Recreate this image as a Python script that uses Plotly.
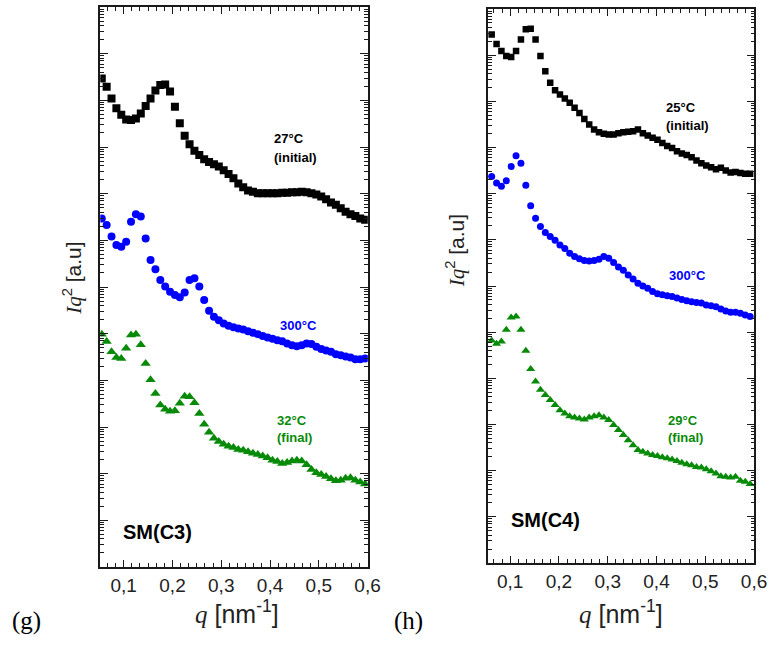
import plotly.graph_objects as go

# ---------------- data ----------------
# Panel (g): SM(C3); y values are log10 of Iq^2 (arbitrary units)
q_g = [0.055, 0.065, 0.075, 0.085, 0.095, 0.105, 0.115, 0.125, 0.135, 0.145,
       0.155, 0.165, 0.175, 0.185, 0.195, 0.205, 0.215, 0.225, 0.235, 0.245,
       0.255, 0.265, 0.275, 0.285, 0.295, 0.305, 0.315, 0.325, 0.335, 0.345,
       0.355, 0.365, 0.375, 0.385, 0.395, 0.405, 0.415, 0.425, 0.435, 0.445,
       0.455, 0.465, 0.475, 0.485, 0.495, 0.505, 0.515, 0.525, 0.535, 0.545,
       0.555, 0.565, 0.575, 0.585, 0.595]
g_27C_initial = [10.47, 10.29, 10.04, 9.83, 9.69, 9.59, 9.58, 9.61, 9.72, 9.88,
                 10.04, 10.21, 10.33, 10.34, 10.19, 9.86, 9.51, 9.24, 9.06, 8.92,
                 8.83, 8.74, 8.68, 8.63, 8.58, 8.50, 8.42, 8.33, 8.22, 8.14,
                 8.07, 8.04, 8.01, 8.01, 8.01, 8.01, 8.01, 8.02, 8.02, 8.03,
                 8.03, 8.04, 8.03, 8.01, 7.98, 7.94, 7.88, 7.81, 7.76, 7.69,
                 7.61, 7.56, 7.52, 7.47, 7.44]
g_300C = [7.47, 7.33, 7.08, 6.90, 6.86, 6.97, 7.40, 7.56, 7.51, 7.04,
          6.58, 6.38, 6.15, 6.01, 5.90, 5.83, 5.78, 5.88, 6.15, 6.19,
          6.01, 5.72, 5.49, 5.36, 5.29, 5.22, 5.17, 5.14, 5.11, 5.09,
          5.05, 5.02, 4.99, 4.95, 4.92, 4.89, 4.86, 4.84, 4.79, 4.75,
          4.73, 4.75, 4.79, 4.78, 4.72, 4.67, 4.64, 4.61, 4.56, 4.54,
          4.51, 4.49, 4.45, 4.45, 4.47]
g_32C_final = [4.99, 4.83, 4.61, 4.49, 4.47, 4.69, 4.97, 4.99, 4.76, 4.36,
               4.01, 3.72, 3.47, 3.38, 3.34, 3.35, 3.51, 3.66, 3.65, 3.52,
               3.29, 3.06, 2.89, 2.76, 2.69, 2.63, 2.59, 2.56, 2.52, 2.50,
               2.47, 2.44, 2.41, 2.38, 2.34, 2.29, 2.26, 2.22, 2.24, 2.27,
               2.29, 2.27, 2.19, 2.09, 2.02, 1.98, 1.94, 1.89, 1.85, 1.86,
               1.90, 1.91, 1.86, 1.82, 1.78]

# Panel (h): SM(C4)
q_h = [0.062, 0.072, 0.082, 0.092, 0.102, 0.112, 0.122, 0.132, 0.142, 0.152,
       0.162, 0.172, 0.182, 0.192, 0.202, 0.212, 0.222, 0.232, 0.242, 0.252,
       0.262, 0.272, 0.282, 0.292, 0.302, 0.312, 0.322, 0.332, 0.342, 0.352,
       0.362, 0.372, 0.382, 0.392, 0.402, 0.412, 0.422, 0.432, 0.442, 0.452,
       0.462, 0.472, 0.482, 0.492, 0.502, 0.512, 0.522, 0.532, 0.542, 0.552,
       0.562, 0.572, 0.582, 0.592]
h_25C_initial = [11.45, 11.24, 11.09, 10.98, 10.96, 11.09, 11.34, 11.56, 11.57, 11.34,
                 10.98, 10.65, 10.40, 10.24, 10.15, 10.06, 9.97, 9.86, 9.75, 9.62,
                 9.50, 9.39, 9.33, 9.30, 9.28, 9.28, 9.31, 9.33, 9.34, 9.35,
                 9.39, 9.31, 9.26, 9.21, 9.17, 9.10, 9.03, 8.99, 8.92, 8.87,
                 8.84, 8.79, 8.72, 8.66, 8.61, 8.57, 8.53, 8.56, 8.50, 8.46,
                 8.47, 8.45, 8.43, 8.43]
h_300C = [8.37, 8.23, 8.16, 8.28, 8.59, 8.82, 8.66, 8.18, 7.74, 7.47,
          7.29, 7.16, 7.07, 6.99, 6.89, 6.81, 6.71, 6.64, 6.59, 6.55,
          6.54, 6.55, 6.58, 6.64, 6.60, 6.51, 6.41, 6.34, 6.24, 6.15,
          6.06, 6.00, 5.95, 5.88, 5.83, 5.81, 5.79, 5.77, 5.74, 5.71,
          5.68, 5.66, 5.64, 5.63, 5.59, 5.57, 5.55, 5.50, 5.46, 5.43,
          5.43, 5.41, 5.37, 5.34]
h_29C_final = [4.82, 4.75, 4.80, 5.05, 5.32, 5.34, 5.05, 4.60, 4.20, 3.93,
               3.75, 3.64, 3.53, 3.42, 3.31, 3.24, 3.18, 3.15, 3.13, 3.11,
               3.15, 3.18, 3.20, 3.15, 3.10, 2.99, 2.88, 2.77, 2.66, 2.55,
               2.45, 2.41, 2.37, 2.34, 2.32, 2.29, 2.27, 2.24, 2.21, 2.17,
               2.14, 2.12, 2.08, 2.07, 2.03, 1.99, 1.94, 1.88, 1.87, 1.85,
               1.87, 1.78, 1.76, 1.71]

BLACK = "#000000"
BLUE = "#0000ff"
GREEN = "#078a07"

W, H = 784, 646


def px(x):
    return x / W


def py(y):
    return 1 - y / H


def delog(vals):
    return [10 ** v for v in vals]


fig = go.Figure()

series = [
    (q_g, g_27C_initial, "square", 8, BLACK, "x", "y"),
    (q_g, g_300C, "circle", 8, BLUE, "x", "y"),
    (q_g, g_32C_final, "triangle-up", 9, GREEN, "x", "y"),
    (q_h, h_25C_initial, "square", 6.5, BLACK, "x2", "y2"),
    (q_h, h_300C, "circle", 7, BLUE, "x2", "y2"),
    (q_h, h_29C_final, "triangle-up", 8, GREEN, "x2", "y2"),
]
for qx, vals, sym, size, col, xa, ya in series:
    fig.add_trace(go.Scatter(
        x=qx, y=delog(vals), mode="markers",
        marker=dict(symbol=sym, size=size, color=col, line=dict(width=0)),
        xaxis=xa, yaxis=ya, showlegend=False, hoverinfo="skip"))

LINE = "#1a1a1a"
tickfont = dict(family="Liberation Sans, Arial", size=19, color="#222222")

xcommon = dict(
    tickmode="linear", tick0=0.1, dtick=0.1, tickformat=".1f",
    ticks="inside", ticklen=7,
    tickwidth=1, tickcolor=LINE, showline=True, linecolor=LINE, linewidth=1.5,
    mirror="allticks", showgrid=False, zeroline=False, tickfont=tickfont,
    minor=dict(ticks="inside", ticklen=4, tickwidth=1, tickcolor=LINE,
               tick0=0.1, dtick=0.1 / 6, showgrid=False),
)
ycommon = dict(
    type="log", range=[0, 12], tickmode="linear", tick0=0, dtick=1,
    ticks="inside", ticklen=8,
    tickwidth=1, tickcolor=LINE, showline=True, linecolor=LINE, linewidth=1.5,
    mirror="allticks", showgrid=False, zeroline=False, showticklabels=False,
    minor=dict(ticks="inside", ticklen=4, tickwidth=1, tickcolor=LINE,
               dtick="D1", showgrid=False),
)

fig.update_layout(
    width=W, height=H, margin=dict(l=0, r=0, t=0, b=0),
    separators=",.",
    paper_bgcolor="white", plot_bgcolor="white", showlegend=False,
    xaxis=dict(domain=[px(102), px(374)], range=[0.052, 0.6005], anchor="y", **xcommon),
    yaxis=dict(domain=[py(567), py(7)], anchor="x", **ycommon),
    xaxis2=dict(domain=[px(496), px(767)], range=[0.054, 0.6005], anchor="y2", **xcommon),
    yaxis2=dict(domain=[py(563), py(9)], anchor="x2", **ycommon),
)

ann = []


def label(x, y, text, color, size=13, bold=True, family="Liberation Sans, Arial",
          xanchor="left", angle=0):
    ann.append(dict(
        x=px(x), y=py(y), xref="paper", yref="paper", showarrow=False,
        text=f"<b>{text}</b>" if bold else text, xanchor=xanchor, yanchor="middle",
        textangle=angle, font=dict(family=family, size=size, color=color)))


# curve labels, panel (g)
label(277, 138, "27°C", BLACK)
label(277, 157, "(initial)", BLACK)
label(283, 325, "300°C", BLUE)
label(280, 420, "32°C", GREEN)
label(280, 438, "(final)", GREEN)
label(123, 532, "SM(C3)", BLACK, size=20)
# curve labels, panel (h)
label(675, 107, "25°C", BLACK)
label(675, 125, "(initial)", BLACK)
label(678, 275, "300°C", BLUE)
label(677, 420, "29°C", GREEN)
label(677, 438, "(final)", GREEN)
label(518, 520, "SM(C4)", BLACK, size=20)

serif = "Liberation Serif, Times New Roman"
xtitle = f'<span style="font-family:{serif}"><i>q</i></span> [nm<sup>-1</sup>]'
ytitle = f'<span style="font-family:{serif}"><i>Iq</i></span><sup>2</sup> [a.u]'
label(241, 612, xtitle, "#222222", size=25, bold=False, xanchor="center")
label(631, 612, xtitle, "#222222", size=25, bold=False, xanchor="center")
label(73, 278, ytitle, "#222222", size=21, bold=False, xanchor="center", angle=-90)
label(463, 251, ytitle, "#222222", size=21, bold=False, xanchor="center", angle=-90)

label(27, 621, "(g)", "#000000", size=25, bold=False, family=serif, xanchor="center")
label(415, 621, "(h)", "#000000", size=25, bold=False, family=serif, xanchor="center")

fig.update_layout(annotations=ann)
fig.write_html(
    "out.html",
    config={"displayModeBar": False},
    post_script="document.body.style.margin='0';document.body.style.overflow='hidden';",
)
